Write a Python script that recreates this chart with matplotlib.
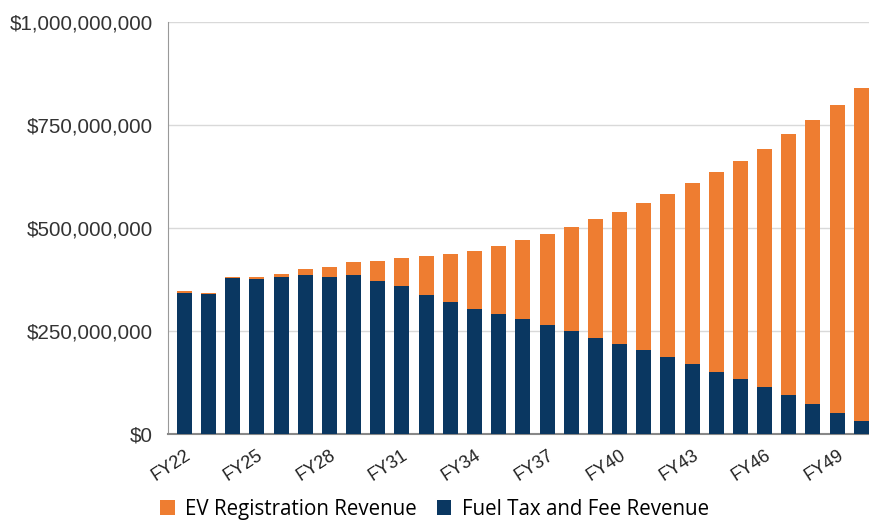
import matplotlib.pyplot as plt
from matplotlib.ticker import FuncFormatter
import numpy as np

# fiscal years FY22..FY50
years = ["FY%d" % y for y in range(22, 51)]

# fuel tax and fee revenue, millions of dollars
fuel_tax = [343, 340, 378, 375, 381, 386, 381, 386, 372, 358,
            338, 320, 304, 292, 280, 265, 251, 234, 219, 203,
            187, 171, 151, 134, 114, 94, 74, 51, 31]
# total revenue (fuel + EV), millions of dollars
total = [347, 343, 381, 380, 389, 401, 405, 418, 420, 428,
         432, 438, 443, 457, 470, 486, 503, 521, 540, 560,
         582, 609, 636, 663, 692, 727, 761, 798, 839]

fuel = np.array(fuel_tax) * 1e6
ev = (np.array(total) - np.array(fuel_tax)) * 1e6

navy = "#0a3761"
orange = "#ee7d31"

fig = plt.figure(figsize=(8.69, 5.2), dpi=100)
ax = fig.add_axes([0.1933, 0.1654, 0.8067, 0.7923])

x = np.arange(len(years))
b1 = ax.bar(x, fuel, width=0.62, color=navy, label="Fuel Tax and Fee Revenue", zorder=3)
b2 = ax.bar(x, ev, width=0.62, bottom=fuel, color=orange, label="EV Registration Revenue", zorder=3)

ax.set_ylim(0, 1e9)
ax.set_xlim(-0.68, len(years) - 0.68)
ax.set_yticks([0, 2.5e8, 5e8, 7.5e8, 1e9])
ax.yaxis.set_major_formatter(FuncFormatter(lambda v, p: "${:,.0f}".format(v)))
ax.grid(axis="y", color="#d9d9d9", linewidth=1, zorder=0)

ax.set_xticks(x[::3])
ax.set_xticklabels(years[::3], rotation=33, ha="right", rotation_mode="anchor",
                   fontsize=13, family="Liberation Sans", color="#222222")
for lab in ax.get_yticklabels():
    lab.set_family("Liberation Sans")
    lab.set_fontsize(14.8)
    lab.set_color("#333333")
ax.tick_params(axis="both", length=0)
ax.tick_params(axis="y", pad=11)
ax.tick_params(axis="x", pad=9)

for s in ["top", "right"]:
    ax.spines[s].set_visible(False)
ax.spines["left"].set_color("#999999")
ax.spines["bottom"].set_color("#888888")
ax.spines["bottom"].set_linewidth(1.5)

fig.legend(handles=[b2, b1], loc="lower center", bbox_to_anchor=(0.5, -0.035), ncol=2,
           frameon=False, prop={"family": "Open Sans", "size": 14.8},
           handlelength=0.7, handleheight=0.7, handletextpad=0.5, columnspacing=1.0)

plt.savefig("out.png", dpi=100)
